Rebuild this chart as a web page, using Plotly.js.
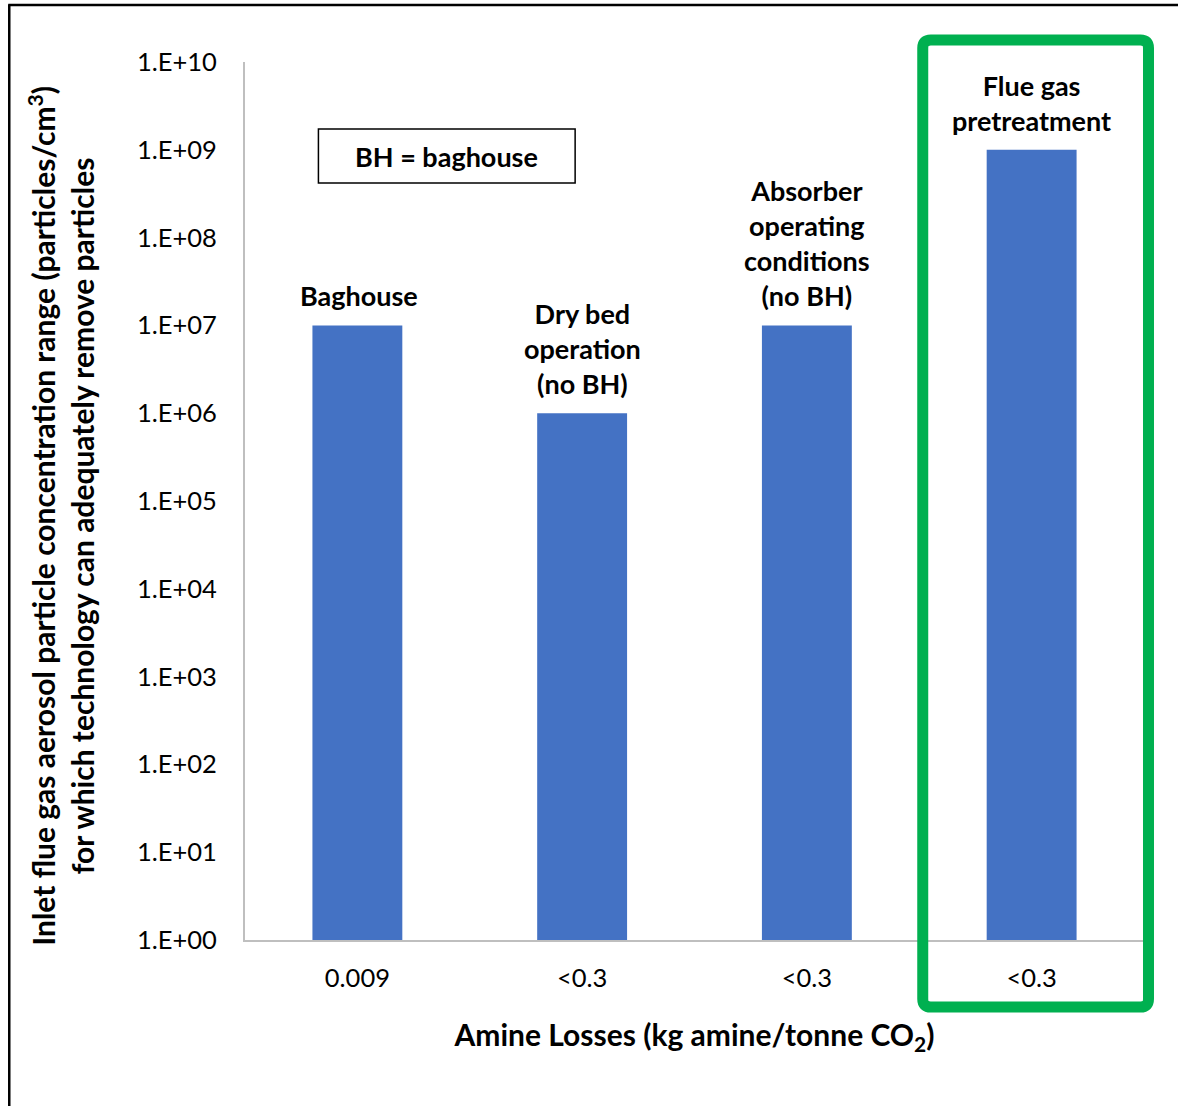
<!DOCTYPE html>
<html>
<head>
<meta charset="utf-8">
<script src="https://cdn.plot.ly/plotly-3.0.1.min.js"></script>
<style>html,body{margin:0;padding:0;background:#fff;}#chart{width:1178px;height:1106px;}</style>
</head>
<body>
<div id="chart"></div>
<script>
const categories = ["0.009", "<0.3", "<0.3 ", "<0.3  "];
const tickLabelsX = ["0.009", "&lt;0.3", "&lt;0.3", "&lt;0.3"];
const values = [1e7, 1e6, 1e7, 1e9];
const barLabels = ["Baghouse", "Dry bed<br>operation<br>(no BH)", "Absorber<br>operating<br>conditions<br>(no BH)", "Flue gas<br>pretreatment"];
const yTickVals = [1, 10, 100, 1e3, 1e4, 1e5, 1e6, 1e7, 1e8, 1e9, 1e10];
const yTickText = ["1.E+00", "1.E+01", "1.E+02", "1.E+03", "1.E+04", "1.E+05", "1.E+06", "1.E+07", "1.E+08", "1.E+09", "1.E+10"];

const FONT = "Lato, 'Open Sans', sans-serif";
const L = 244.5, R = 1144.5, T = 62, B = 940, W = 1178, H = 1106;
const px = x => (x - L) / (R - L);
const py = y => (B - y) / (B - T);

const annotations = barLabels.map((t, i) => ({
  x: categories[i], y: Math.log10(values[i]), xref: 'x', yref: 'y',
  text: '<b>' + t + '</b>', showarrow: false, yanchor: 'bottom', yshift: 11,
  font: {family: FONT, size: 27, color: '#000'}, align: 'center'
}));
annotations.push({
  x: px(446), y: py(157), xref: 'paper', yref: 'paper', xanchor: 'center', yanchor: 'middle',
  text: '<b>BH = baghouse</b>',
  showarrow: false, font: {family: FONT, size: 27, color: '#000'}
});
// y-axis title (placed as rotated annotation for exact position)
annotations.push({
  x: px(60), y: py(516), xref: 'paper', yref: 'paper', xanchor: 'center', yanchor: 'middle',
  textangle: -90, showarrow: false, align: 'center',
  text: '<b>Inlet flue gas aerosol particle concentration range (particles/cm<sup>3</sup>)<br>for which technology can adequately remove particles</b>',
  font: {family: FONT, size: 30, color: '#000'}
});

// green rounded box
const gx0 = px(923), gx1 = px(1149), gy0 = py(1007), gy1 = py(40);
const rx = 8 / (R - L), ry = 8 / (B - T);
const gpath = `M ${gx0 + rx} ${gy1} L ${gx1 - rx} ${gy1} Q ${gx1} ${gy1} ${gx1} ${gy1 - ry} L ${gx1} ${gy0 + ry} Q ${gx1} ${gy0} ${gx1 - rx} ${gy0} L ${gx0 + rx} ${gy0} Q ${gx0} ${gy0} ${gx0} ${gy0 + ry} L ${gx0} ${gy1 - ry} Q ${gx0} ${gy1} ${gx0 + rx} ${gy1} Z`;

const shapes = [
  {type: 'line', xref: 'paper', yref: 'paper', x0: px(8.5), x1: px(8.5), y0: py(4.5), y1: py(1120), line: {color: '#000', width: 2.5}},
  {type: 'line', xref: 'paper', yref: 'paper', x0: px(7.5), x1: px(1190), y0: py(5), y1: py(5), line: {color: '#000', width: 2.5}},
  {type: 'rect', xref: 'paper', yref: 'paper', x0: px(318), x1: px(575), y0: py(183), y1: py(129), line: {color: '#000', width: 1.5}},
  {type: 'path', xref: 'paper', yref: 'paper', path: gpath, line: {color: '#00b050', width: 11}}
];

const data = [{
  type: 'bar', x: categories, y: values, marker: {color: '#4472c4'}, width: 0.4, hoverinfo: 'skip'
}];

const layout = {
  width: W, height: H,
  margin: {l: L, r: W - R, t: T, b: H - B, pad: 0},
  paper_bgcolor: '#fff', plot_bgcolor: '#fff',
  showlegend: false,
  font: {family: FONT, color: '#000'},
  xaxis: {
    type: 'category', range: [-0.5, 3.5], tickvals: categories, ticktext: tickLabelsX,
    showline: true, linecolor: '#bfbfbf', linewidth: 2, ticks: '', showgrid: false, zeroline: false,
    tickfont: {family: FONT, size: 25.5, color: '#000'}, ticklabelstandoff: 14,
    title: {text: '<b>Amine Losses (kg amine/tonne CO<sub>2</sub>)</b>', font: {family: FONT, size: 30, color: '#000'}, standoff: 34},
    automargin: false, fixedrange: true
  },
  yaxis: {
    type: 'log', range: [0, 10], tickvals: yTickVals, ticktext: yTickText,
    showline: true, linecolor: '#bfbfbf', linewidth: 2, ticks: '', showgrid: false, zeroline: false,
    tickfont: {family: FONT, size: 25.5, color: '#000'}, ticklabelstandoff: 21,
    automargin: false, fixedrange: true
  },
  annotations: annotations,
  shapes: shapes
};

Plotly.newPlot('chart', data, layout, {displayModeBar: false, staticPlot: true});
</script>
</body>
</html>
